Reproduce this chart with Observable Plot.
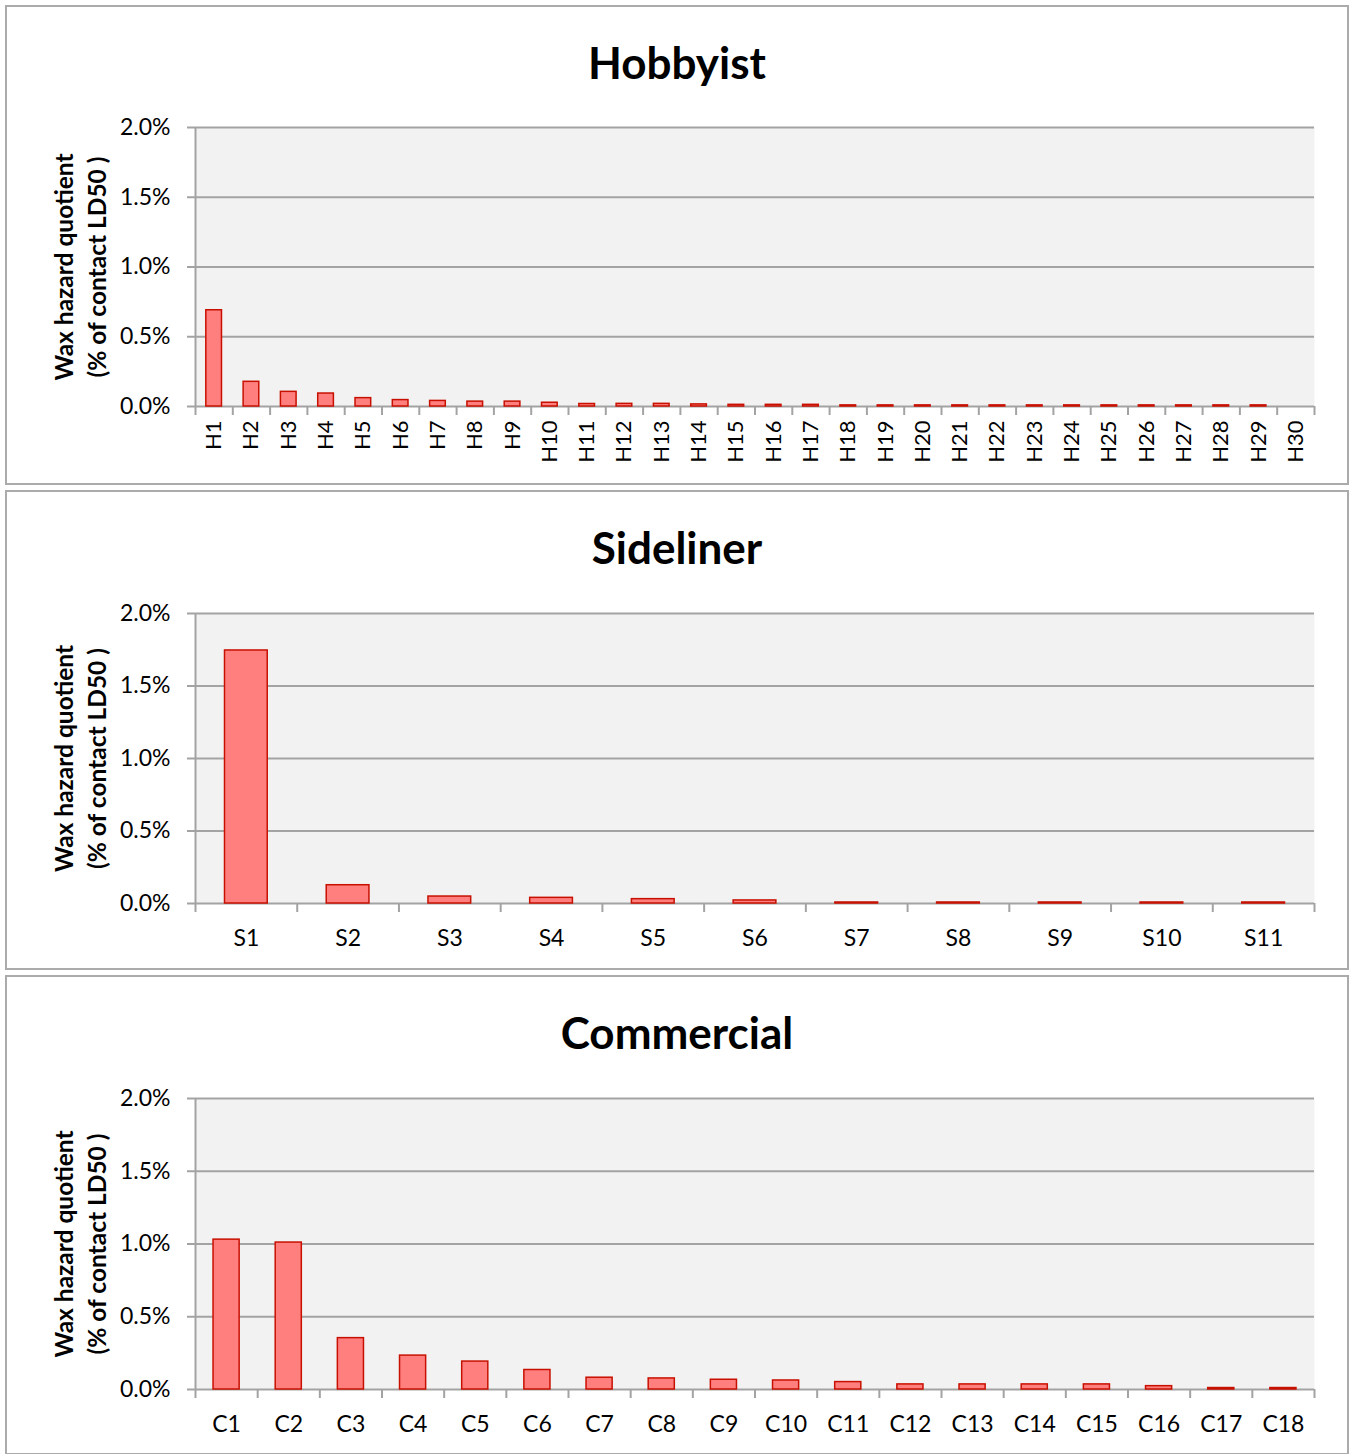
<!DOCTYPE html>
<html><head><meta charset="utf-8">
<script src="https://cdn.jsdelivr.net/npm/d3@7"></script>
<script src="https://cdn.jsdelivr.net/npm/@observablehq/plot@0.6"></script>
<style>
body{margin:0;background:#fff;font-family:Lato,sans-serif;}
.panel{position:absolute;left:5px;width:1344px;height:480px;box-sizing:border-box;border:2px solid #ababab;background:#fff;}
.title{position:absolute;left:0;right:0;top:33px;text-align:center;font:bold 44px/44px Lato,sans-serif;color:#000;}
.panel svg{position:absolute;left:0;top:0;}
</style></head><body>
<script>
const hobbyistLabels = ["H1","H2","H3","H4","H5","H6","H7","H8","H9","H10","H11","H12","H13","H14","H15","H16","H17","H18","H19","H20","H21","H22","H23","H24","H25","H26","H27","H28","H29","H30"];
const hobbyistValues = [0.0069,0.00177,0.00105,0.00093,0.0006,0.00046,0.0004,0.00035,0.00035,0.00027,0.00018,0.00019,0.00019,0.00015,0.00012,0.00012,0.00012,0.00008,0.00008,0.00008,0.00008,0.00008,0.00008,0.00008,0.00008,0.00008,0.00008,0.00008,0.00008,0];
const sidelinerLabels = ["S1","S2","S3","S4","S5","S6","S7","S8","S9","S10","S11"];
const sidelinerValues = [0.01745,0.00126,0.00048,0.00039,0.0003,0.00021,0.00007,0.00007,0.00007,0.00007,0.00007];
const commercialLabels = ["C1","C2","C3","C4","C5","C6","C7","C8","C9","C10","C11","C12","C13","C14","C15","C16","C17","C18"];
const commercialValues = [0.0103,0.0101,0.00353,0.00233,0.00192,0.00134,0.00081,0.00076,0.00067,0.00062,0.00051,0.00035,0.00035,0.00035,0.00035,0.00023,0.0001,0.0001];
const yTicks = [0,0.005,0.01,0.015,0.02];
const yLabel = "Wax hazard quotient\n(% of contact LD50 )";

const W = 1340, H = 476, ML = 188, MR = 33;
const GRID = "#a3a3a3";

function panel(top, title, labels, values, mt, mb, rotate) {
  const div = document.createElement("div");
  div.className = "panel";
  div.style.top = top + "px";
  const t = document.createElement("div");
  t.className = "title";
  t.textContent = title;
  const data = labels.map((c, i) => ({c, v: values[i]}));
  const step = (W - ML - MR) / labels.length;
  const chart = Plot.plot({
    width: W, height: H, marginLeft: ML, marginRight: MR, marginTop: mt, marginBottom: mb,
    style: {fontFamily: "Lato, sans-serif", fontSize: "23px", color: "#000", background: "transparent", overflow: "visible"},
    x: {domain: labels, paddingInner: 0.58, paddingOuter: 0.29, round: false, label: null},
    y: {domain: [0, 0.02], label: null},
    marks: [
      Plot.frame({fill: "#f2f2f2", stroke: null}),
      Plot.ruleY(yTicks, {stroke: GRID, strokeWidth: 2}),
      Plot.barY(data, {x: "c", y: "v", fill: "#ff7f7f", stroke: "#c81000", strokeWidth: 1.5}),
      Plot.ruleX([labels[0]], {x: d => d, dx: -step / 2, stroke: GRID, strokeWidth: 2}),
      Plot.ruleX(labels, {x: d => d, y1: 0, y2: 0, dx: -step / 2, insetBottom: -9, stroke: GRID, strokeWidth: 2}),
      Plot.ruleX([labels[labels.length - 1]], {x: d => d, y1: 0, y2: 0, dx: step / 2, insetBottom: -9, stroke: GRID, strokeWidth: 2}),
      Plot.axisY({ticks: yTicks, tickFormat: d3.format(".1%"), tickSize: 8, tickPadding: 17, stroke: GRID, strokeWidth: 2, fill: "#000", fontSize: 23}),
      rotate
        ? Plot.axisX({tickSize: 0, tickPadding: 14, tickRotate: -90, fill: "#000", fontSize: 22})
        : Plot.axisX({tickSize: 0, tickPadding: 26, fill: "#000", fontSize: 23}),
      Plot.text([yLabel], {frameAnchor: "left", textAnchor: "middle", dx: -116.5, rotate: -90, fontWeight: "bold", fontSize: 24.5, lineHeight: 1.35, fill: "#000"})
    ]
  });
  div.appendChild(chart);
  div.appendChild(t);
  document.body.appendChild(div);
}

panel(5, "Hobbyist", hobbyistLabels, hobbyistValues, 120, 77, true);
panel(490, "Sideliner", sidelinerLabels, sidelinerValues, 121, 65, false);
panel(975, "Commercial", commercialLabels, commercialValues, 121, 64, false);
</script>
</body></html>
